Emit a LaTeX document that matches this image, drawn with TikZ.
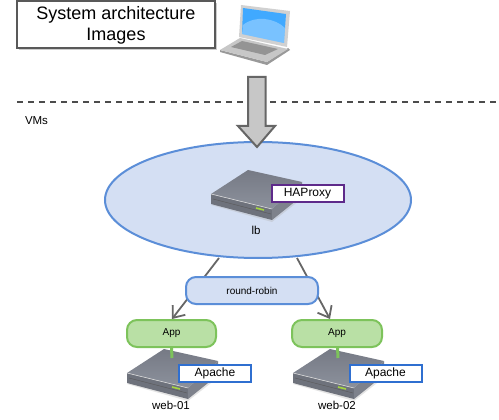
\documentclass[tikz,border=0pt]{standalone}
\usepackage{fontspec}
\setmainfont{Liberation Sans}
\usetikzlibrary{arrows.meta, shadows, shapes.geometric}
\definecolor{zoneFill}{HTML}{D4DFF3}
\definecolor{zoneLine}{HTML}{5B8ED8}
\definecolor{appFill}{HTML}{B9E0A5}
\definecolor{appLine}{HTML}{7DC35B}
\definecolor{linkGrey}{HTML}{666666}
\definecolor{tagBlue}{HTML}{2F6FD0}
\definecolor{tagPurple}{HTML}{5E2A8A}
\definecolor{serverTop}{HTML}{8C919C}
\definecolor{serverTopDark}{HTML}{767A85}
\definecolor{serverFront}{HTML}{6E727C}
\definecolor{serverSide}{HTML}{7E828C}
\tikzset{
    zone/.style={draw=zoneLine, fill=zoneFill, line width=2pt},
    pill/.style={rectangle, rounded corners=10pt, inner sep=0pt, line width=2pt, font=\fontsize{10}{11}\selectfont},
    tag/.style={draw, fill=white, rectangle, inner sep=0pt, minimum width=72pt, minimum height=17pt, line width=2pt, font=\fontsize{12}{14}\selectfont},
    caption/.style={inner sep=0pt, font=\fontsize{11.5}{13}\selectfont},
    link/.style={draw=linkGrey, line width=1.8pt},
}
% Server seen from above, (0,0) is its left corner
\newcommand{\serverIcon}[2]{
\begin{scope}[shift={(#1,#2)}]
    \fill[black!30, opacity=0.35] (0,11) -- (61,28) -- (93,3) -- (92,-4) -- cycle;
    \fill[serverFront] (0,0) -- (0,10) -- (61,26) -- (61,15) -- cycle;
    \fill[serverSide] (61,15) -- (61,26) -- (91,2) -- (91,-12) -- cycle;
    \shade[top color=serverTopDark, bottom color=serverTop] (0,0) -- (37,-24) -- (91,-12) -- (61,15) -- cycle;
    \draw[black!15, line width=0.6pt] (0,0) -- (61,15);
    \draw[black!65, line width=0.4pt] (2,5) -- (60,20);
    \draw[appLine!70!yellow, line width=1.6pt] (45,14) -- (53,16);
\end{scope}
}
\begin{document}
\begin{tikzpicture}[x=1pt, y=-1pt]
    \useasboundingbox[fill=white] (0,0) rectangle (499,420);

    % Titolo
    \node[draw=black!65, fill=white, line width=2pt, drop shadow={shadow xshift=2pt, shadow yshift=-2pt, opacity=0.4}, minimum width=198pt, minimum height=47pt, inner sep=0pt, align=center, font=\fontsize{18}{21}\selectfont] (title) at (116,25) {System architecture\\Images};

    % Laptop
    \fill[black!40] (220,52) -- (267,65) -- (290,50) -- (288,48) -- (267,62) -- (220,50) -- cycle;
    \fill[black!22] (220,50) -- (240,38) -- (288,49) -- (267,62) -- cycle;
    \fill[black!42] (231,47) -- (242,41) -- (278,49) -- (265,55) -- cycle;
    \fill[black!18] (241,5) -- (290,11) -- (287,47) -- (239,37) -- cycle;
    \fill[blue!45!cyan!75!white] (243,8) -- (286,14) -- (284,43) -- (242,34) -- cycle;
    \fill[white, opacity=0.3] (243,25) .. controls (255,15) and (275,18) .. (285,28) -- (284,43) -- (242,34) -- cycle;

    % Separatore
    \coordinate (dashStart) at (17,102);
    \coordinate (dashEnd) at (499,102);
    \draw[black!70, line width=1.2pt, dash pattern=on 6pt off 5pt] (dashStart) -- (dashEnd);
    \node[caption] (vms) at (36.5,120.5) {VMs};

    % Zona lb
    \node[zone, ellipse, minimum width=306pt, minimum height=116pt, inner sep=0pt] (lbzone) at (258,200) {};

    % Freccia grande
    \draw[fill=black!22, draw=black!60, line width=2pt, line join=miter] (248,77) -- (265.5,77) -- (265.5,126) -- (275,126) -- (257,147) -- (238,126) -- (248,126) -- cycle;

    % Server lb
    \serverIcon{211}{194}
    \node[tag, draw=tagPurple] (haproxy) at (307.5,194) {\raisebox{-0.8pt}{HAProxy}};
    \node[caption] (lb) at (256,230) {lb};

    % Collegamenti
    \coordinate (linkLeft) at (219,258);
    \coordinate (linkRight) at (297,258);
    \coordinate (webLeft) at (172,319);
    \coordinate (webRight) at (330,319);
    \draw[link, -{Straight Barb[length=10pt, width=16pt]}] (linkLeft) -- (webLeft);
    \draw[link, -{Straight Barb[length=10pt, width=16pt]}] (linkRight) -- (webRight);
    \node[pill, draw=zoneLine, fill=zoneFill, minimum width=132pt, minimum height=27pt] (rr) at (252,290.5) {round-robin};

    % Server web
    \serverIcon{127}{373}
    \serverIcon{293}{373}
    \coordinate (appTailOne) at (172,358);
    \coordinate (appTailTwo) at (338,358);
    \draw[appLine, line width=3pt] (171.5,347) -- (appTailOne);
    \draw[appLine, line width=3pt] (337.5,347) -- (appTailTwo);
    \node[pill, draw=appLine, fill=appFill, minimum width=89pt, minimum height=27pt] (appOne) at (171.5,333.5) {App};
    \node[pill, draw=appLine, fill=appFill, minimum width=90pt, minimum height=27pt] (appTwo) at (337,333.5) {App};
    \node[tag, draw=tagBlue] (apacheOne) at (215,373) {\raisebox{-0.8pt}{Apache}};
    \node[tag, draw=tagBlue] (apacheTwo) at (385.5,373) {\raisebox{-0.8pt}{Apache}};
    \node[caption] (webOne) at (171,405) {web-01};
    \node[caption] (webTwo) at (337,405) {web-02};
\end{tikzpicture}
\end{document}
